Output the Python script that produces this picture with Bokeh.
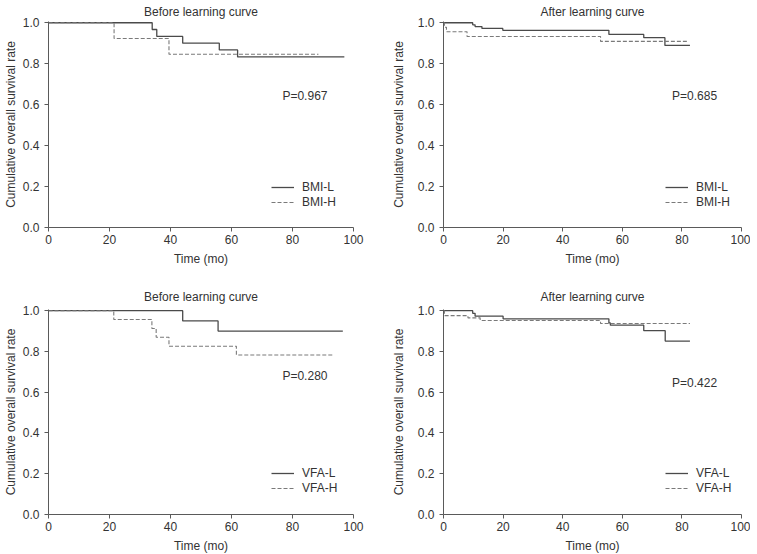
from bokeh.plotting import figure
from bokeh.layouts import column, row
from bokeh.models import Range1d, FixedTicker, PrintfTickFormatter, Label
from bokeh.embed import file_html
from bokeh.resources import INLINE

FONT = "Liberation Sans"
TXT = "#333333"
AX = "#5a5a5a"
SOLID_C = "#4a4a4a"
DASH_C = "#7a7a7a"

x_ticks = [0, 20, 40, 60, 80, 100]
y_ticks = [0.0, 0.2, 0.4, 0.6, 0.8, 1.0]

# Panel A: BMI, before learning curve
bmi_before_L_t = [0, 34, 35.5, 44, 56, 62, 97]
bmi_before_L_s = [1.0, 0.967, 0.933, 0.900, 0.867, 0.833, 0.833]
bmi_before_H_t = [0, 21.5, 39.5, 88.5]
bmi_before_H_s = [1.0, 0.923, 0.846, 0.846]
# Panel B: BMI, after learning curve
bmi_after_L_t = [0, 9.8, 10.6, 12.9, 19.9, 55.5, 67.2, 74.3, 82.7]
bmi_after_L_s = [1.0, 0.990, 0.981, 0.972, 0.963, 0.943, 0.927, 0.889, 0.889]
bmi_after_H_t = [0, 0.3, 1.0, 7.9, 52.7, 82.0]
bmi_after_H_s = [1.0, 0.978, 0.956, 0.933, 0.909, 0.909]
# Panel C: VFA, before learning curve
vfa_before_L_t = [0, 44, 55.6, 96.5]
vfa_before_L_s = [1.0, 0.950, 0.900, 0.900]
vfa_before_H_t = [0, 21.4, 33.9, 35.3, 39.5, 61.6, 93.6]
vfa_before_H_s = [1.0, 0.957, 0.913, 0.870, 0.826, 0.783, 0.783]
# Panel D: VFA, after learning curve
vfa_after_L_t = [0, 9.8, 10.6, 20.0, 55.5, 56.0, 67.2, 74.4, 82.7]
vfa_after_L_s = [1.0, 0.987, 0.973, 0.960, 0.940, 0.929, 0.902, 0.851, 0.851]
vfa_after_H_t = [0, 0.3, 8.2, 12.3, 52.7, 82.7]
vfa_after_H_s = [1.0, 0.976, 0.965, 0.952, 0.937, 0.937]

titles = ["Before learning curve", "After learning curve",
          "Before learning curve", "After learning curve"]
p_values = ["P=0.967", "P=0.685", "P=0.280", "P=0.422"]
p_pos_y = [0.64, 0.64, 0.681, 0.647]
legend_names = [["BMI-L", "BMI-H"], ["BMI-L", "BMI-H"],
                ["VFA-L", "VFA-H"], ["VFA-L", "VFA-H"]]
curves = [
    (bmi_before_L_t, bmi_before_L_s, bmi_before_H_t, bmi_before_H_s),
    (bmi_after_L_t, bmi_after_L_s, bmi_after_H_t, bmi_after_H_s),
    (vfa_before_L_t, vfa_before_L_s, vfa_before_H_t, vfa_before_H_s),
    (vfa_after_L_t, vfa_after_L_s, vfa_after_H_t, vfa_after_H_s),
]


def make_panel(i, fw, fh, bl, br, bt, bb, title_standoff, ylab_standoff,
               legend_loc):
    p = figure(frame_width=fw, frame_height=fh, output_backend="svg",
               toolbar_location=None, x_range=Range1d(0, 100),
               y_range=Range1d(0, 1.006),
               min_border_left=bl, min_border_right=br,
               min_border_top=bt, min_border_bottom=bb,
               title=titles[i])
    p.outline_line_color = None
    p.xgrid.visible = False
    p.ygrid.visible = False
    p.background_fill_color = "white"
    p.border_fill_color = "white"

    p.title.align = "center"
    p.title.text_font = FONT
    p.title.text_font_size = "12px"
    p.title.text_font_style = "normal"
    p.title.text_color = TXT
    p.title.standoff = title_standoff

    tL, sL, tH, sH = curves[i]
    p.step(x=tL, y=sL, mode="after", line_color=SOLID_C, line_width=1.3,
           legend_label=legend_names[i][0])
    p.step(x=tH, y=sH, mode="after", line_color=DASH_C, line_width=1.1,
           line_dash="4 2", legend_label=legend_names[i][1])

    for ax in (p.xaxis[0], p.yaxis[0]):
        ax.axis_line_color = AX
        ax.major_tick_line_color = AX
        ax.minor_tick_line_color = None
        ax.major_tick_out = 4
        ax.major_tick_in = 0
        ax.major_label_text_font = FONT
        ax.major_label_text_font_size = "12px"
        ax.major_label_text_color = TXT
        ax.axis_label_text_font = FONT
        ax.axis_label_text_font_size = "12px"
        ax.axis_label_text_font_style = "normal"
        ax.axis_label_text_color = TXT
    p.xaxis.ticker = FixedTicker(ticks=x_ticks, minor_ticks=[])
    p.yaxis.ticker = FixedTicker(ticks=y_ticks, minor_ticks=[])
    p.yaxis.formatter = PrintfTickFormatter(format="%.1f")
    p.xaxis.axis_label = "Time (mo)"
    p.yaxis.axis_label = "Cumulative overall survival rate"
    p.xaxis.major_label_standoff = 3
    p.xaxis.axis_label_standoff = 5
    p.yaxis.major_label_standoff = 5
    p.yaxis.axis_label_standoff = ylab_standoff

    p.add_layout(Label(x=76.7, y=p_pos_y[i], text=p_values[i],
                       text_align="left", text_baseline="middle",
                       text_font=FONT, text_font_size="12px",
                       text_color=TXT))

    lg = p.legend[0]
    lg.location = legend_loc
    lg.border_line_color = None
    lg.background_fill_alpha = 0
    lg.padding = 0
    lg.margin = 0
    lg.spacing = 1
    lg.glyph_width = 23
    lg.glyph_height = 12
    lg.label_height = 12
    lg.label_standoff = 8
    lg.label_text_font = FONT
    lg.label_text_font_size = "12px"
    lg.label_text_color = TXT
    return p


p1 = make_panel(0, 305, 206, 39, 28, 19, 40, 5, 2, (223, 18))
p2 = make_panel(1, 298, 206, 62, 9, 19, 40, 5, 9, (222, 18))
p3 = make_panel(2, 305, 205, 39, 28, 41, 40, 12, 2, (223, 19))
p4 = make_panel(3, 298, 205, 62, 9, 41, 40, 12, 9, (222, 19))

layout = column(row(p1, p2, spacing=0), row(p3, p4, spacing=0), spacing=0)

open("out.html", "w").write(file_html(layout, INLINE))
